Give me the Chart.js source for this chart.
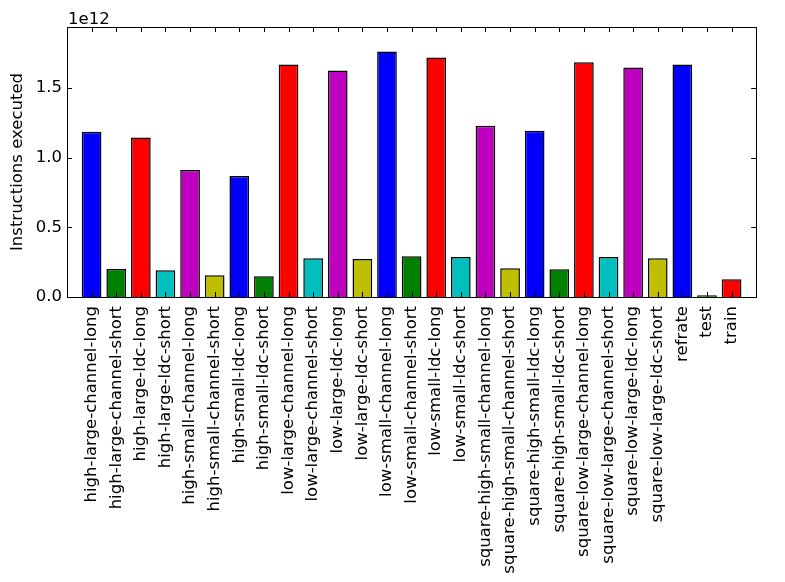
<!DOCTYPE html>
<html>
<head>
<meta charset="utf-8">
<script src="https://cdn.jsdelivr.net/npm/chart.js@4.4.0/dist/chart.umd.min.js"></script>
<style>
  html, body { margin: 0; padding: 0; background: #fff; }
</style>
</head>
<body>
<canvas id="chart" width="785" height="582"></canvas>
<script>
// Runs, in the order they appear on the x axis
const categories = [
  'high-large-channel-long', 'high-large-channel-short',
  'high-large-ldc-long', 'high-large-ldc-short',
  'high-small-channel-long', 'high-small-channel-short',
  'high-small-ldc-long', 'high-small-ldc-short',
  'low-large-channel-long', 'low-large-channel-short',
  'low-large-ldc-long', 'low-large-ldc-short',
  'low-small-channel-long', 'low-small-channel-short',
  'low-small-ldc-long', 'low-small-ldc-short',
  'square-high-small-channel-long', 'square-high-small-channel-short',
  'square-high-small-ldc-long', 'square-high-small-ldc-short',
  'square-low-large-channel-long', 'square-low-large-channel-short',
  'square-low-large-ldc-long', 'square-low-large-ldc-short',
  'refrate', 'test', 'train'
];

// Instructions executed (x 1e12)
const instructions = [
  1.185, 0.201, 1.144, 0.192, 0.911, 0.156, 0.868, 0.149,
  1.667, 0.278, 1.624, 0.273, 1.760, 0.293, 1.717, 0.286,
  1.228, 0.206, 1.192, 0.199, 1.683, 0.286, 1.645, 0.278,
  1.667, 0.012, 0.127
];

const yTicks = [0, 0.5, 1.0, 1.5];

// matplotlib classic colour cycle (b, g, r, c, m, y)
const cycle = ['#0000ff', '#008000', '#ff0000', '#00bfbf', '#bf00bf', '#bfbf00'];

const FONT = 'DejaVu Sans';
const FONT_SIZE = 16.5;
const SCALE = 1e12;

// one empty slot on each side, like xlim(-1, n)
const labels = ['', ...categories, ''];
const values = [null, ...instructions.map(v => v * SCALE), null];
const colors = ['#fff', ...instructions.map((v, i) => cycle[i % cycle.length]), '#fff'];

// inward ticks, black frame and the offset text
const frame = {
  id: 'frame',
  afterDraw(chart) {
    const { ctx, chartArea: a, scales: { x, y } } = chart;
    ctx.save();
    ctx.strokeStyle = '#000';
    ctx.lineWidth = 1;
    ctx.beginPath();
    labels.forEach((l, i) => {
      if (!l) return;
      const px = Math.round(x.getPixelForTick(i)) + 0.5;
      ctx.moveTo(px, a.bottom); ctx.lineTo(px, a.bottom - 5);
      ctx.moveTo(px, a.top); ctx.lineTo(px, a.top + 5);
    });
    y.ticks.forEach((t, i) => {
      const py = Math.round(y.getPixelForTick(i)) + 0.5;
      ctx.moveTo(a.left, py); ctx.lineTo(a.left + 5, py);
      ctx.moveTo(a.right, py); ctx.lineTo(a.right - 5, py);
    });
    ctx.stroke();
    ctx.strokeRect(Math.round(a.left) + 0.5, Math.round(a.top) + 0.5,
      Math.round(a.width), Math.round(a.height));
    ctx.fillStyle = '#000';
    ctx.font = FONT_SIZE + 'px "' + FONT + '"';
    ctx.textAlign = 'left';
    ctx.textBaseline = 'alphabetic';
    ctx.fillText('1e12', a.left + 1, a.top - 3);
    ctx.restore();
  }
};

new Chart(document.getElementById('chart'), {
  type: 'bar',
  data: {
    labels: labels,
    datasets: [{
      label: 'Instructions executed',
      data: values,
      backgroundColor: colors,
      borderColor: '#000',
      borderWidth: 1.5,
      categoryPercentage: 0.8,
      barPercentage: 1.0
    }]
  },
  options: {
    responsive: false,
    animation: false,
    layout: { padding: { left: 0, top: 27, right: 8, bottom: 0 } },
    plugins: { legend: { display: false }, tooltip: { enabled: false } },
    scales: {
      x: {
        offset: false,
        grid: { display: false, drawTicks: false },
        border: { display: false },
        ticks: {
          autoSkip: false,
          minRotation: 90,
          maxRotation: 90,
          padding: 9,
          color: '#000',
          font: { family: FONT, size: FONT_SIZE }
        },
        afterFit(s) { s.height = 582 - 297; }
      },
      y: {
        min: 0,
        max: 1.936 * SCALE,
        grid: { display: false, drawTicks: false },
        border: { display: false },
        afterBuildTicks(s) { s.ticks = yTicks.map(v => ({ value: v * SCALE })); },
        ticks: {
          padding: 5,
          color: '#000',
          font: { family: FONT, size: FONT_SIZE }
        ,
          callback: v => (v / SCALE).toFixed(1)
        },
        title: {
          display: true,
          text: 'Instructions executed',
          color: '#000',
          padding: { top: 8, bottom: 0 },
          font: { family: FONT, size: FONT_SIZE }
        },
        afterFit(s) { s.width = 67; }
      }
    }
  },
  plugins: [frame]
});
</script>
</body>
</html>
